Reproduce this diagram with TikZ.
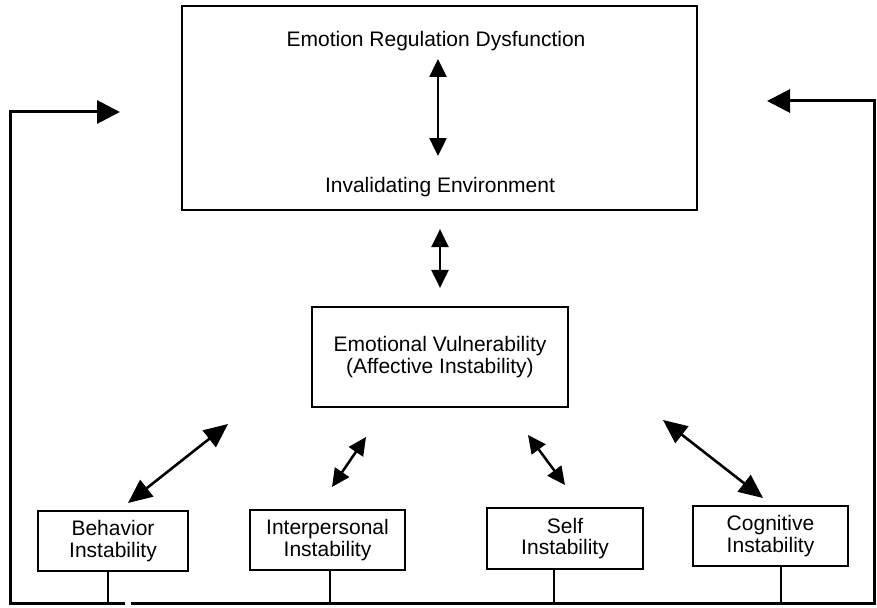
\documentclass[tikz,border=0pt]{standalone}
\usepackage{fontspec}
\setmainfont{Liberation Sans}
\usepackage{tikz}
\usetikzlibrary{arrows.meta}
\usetikzlibrary{positioning}

\begin{document}
\begin{tikzpicture}[x=1pt,y=-1pt,
			box node/.style={draw,line width=2.2pt,align=center,inner sep=0pt,
				font=\fontsize{21}{21.5}\selectfont},
			text node/.style={inner sep=0pt,anchor=base,font=\fontsize{21}{21.5}\selectfont},
			big arrow/.style={line width=2.6pt,
				{Triangle[length=24pt,width=21pt]}-{Triangle[length=24pt,width=21pt]}},
			small arrow/.style={line width=2.5pt,
				{Triangle[length=18pt,width=17pt]}-{Triangle[length=18pt,width=17pt]}},
			feedback/.style={line width=3pt,-{Triangle[length=23pt,width=23pt]}},
			stem/.style={line width=2.6pt}]
			
			\useasboundingbox (0,0) rectangle (877,607);
			
			% boxes
			\node[box node,minimum width=515pt,minimum height=204pt] (top) at (439.5,108) {};
			\node[text node] (erd) at (436,47) {Emotion Regulation Dysfunction};
			\node[text node] (inv) at (440,192) {Invalidating Environment};
			\node[box node,minimum width=256pt,minimum height=100pt] (vul) at (440,357)
				{Emotional Vulnerability\\(Affective Instability)};
			\node[box node,minimum width=150pt,minimum height=60pt] (beh) at (113,541)
				{Behavior\\Instability};
			\node[box node,minimum width=155pt,minimum height=60pt] (ipi) at (327.5,540)
				{Interpersonal\\Instability};
			\node[box node,minimum width=156pt,minimum height=61pt] (sel) at (565,538.5)
				{Self\\Instability};
			\node[box node,minimum width=155pt,minimum height=60pt] (cog) at (770.5,536)
				{Cognitive\\Instability};
			
			% free ends of the arrows
			\coordinate (t1) at (438,59);
			\coordinate (t2) at (438,156);
			\coordinate (b1) at (128,503);
			\coordinate (b2) at (228,424);
			\coordinate (i1) at (332,487);
			\coordinate (i2) at (366,437);
			\coordinate (s1) at (528,435);
			\coordinate (s2) at (565,485);
			\coordinate (c1) at (663,420);
			\coordinate (c2) at (763,498);
			
			\draw[small arrow] (t1) -- (t2);
			\draw[small arrow,shorten <=18pt,shorten >=18pt] (vul.north |- top.south) -- (vul.north);
			\draw[big arrow] (b1) -- (b2);
			\draw[small arrow] (i1) -- (i2);
			\draw[small arrow] (s1) -- (s2);
			\draw[big arrow] (c1) -- (c2);
			
			% feedback lines
			\coordinate (j1) at (108,603);
			\coordinate (j2) at (330,603);
			\coordinate (j3) at (554,603);
			\coordinate (j4) at (781,603);
			\draw[stem] (j1 |- beh.south) -- (j1);
			\draw[stem] (j2 |- ipi.south) -- (j2);
			\draw[stem] (j3 |- sel.south) -- (j3);
			\draw[stem] (j4 |- cog.south) -- (j4);
			
			\coordinate (lgap) at (125,603);
			\coordinate (lbot) at (10,603);
			\coordinate (ltip) at (120,112);
			\coordinate (rgap) at (131,603);
			\coordinate (rbot) at (874,603);
			\coordinate (rtip) at (767,101);
			\draw[feedback] (lgap) -- (lbot) |- (ltip);
			\draw[feedback] (rgap) -- (rbot) |- (rtip);
		\end{tikzpicture}
\end{document}
